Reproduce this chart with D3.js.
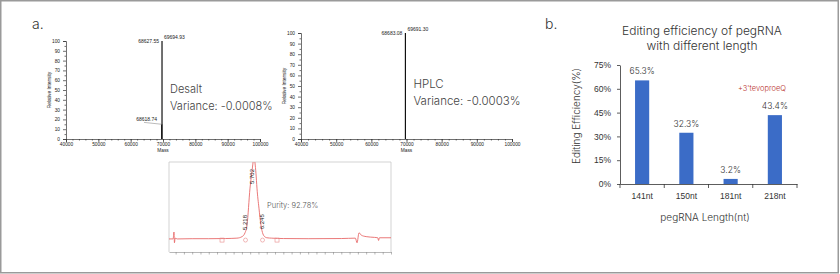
<!DOCTYPE html>
<html>
<head>
<meta charset="utf-8">
<script src="https://cdn.jsdelivr.net/npm/d3@7"></script>
<style>
  body { margin: 0; background: #fff; }
  svg { display: block; font-family: Inter, "Open Sans", sans-serif; }
</style>
</head>
<body>
<div id="chart"></div>
<script>
// panel b: bar chart
const lengths = ["141nt", "150nt", "181nt", "218nt"];
const efficiency = [65.3, 32.3, 3.2, 43.4];
const effTicks = [0, 15, 30, 45, 60, 75];

// panel a: mass spectra
const massTicks = [40000, 50000, 60000, 70000, 80000, 90000, 100000];
const intensityTicks = [0, 10, 20, 30, 40, 50, 60, 70, 80, 90, 100];
const desaltPeaks = [[69694.93, 100], [69600, 15]];
const desaltLabels = ["68627.55", "69694.93", "68618.74"];
const hplcPeaks = [[69691.30, 100]];
const hplcLabels = ["68683.08", "69691.30"];

// panel a: HPLC trace (time, signal)
const traceTime = [0.6, 0.85, 0.9, 0.93, 0.97, 1.1, 2.0, 3.0, 4.0, 4.7, 5.01, 5.19, 5.31, 5.49, 5.61, 5.73, 5.85, 5.91, 6.03, 6.15, 6.21, 6.33, 6.51, 6.8, 7.5, 9.0, 11.0, 11.85, 11.95, 12.07, 12.2, 12.5, 13.0, 13.2, 13.25, 13.3, 14.0];
const traceSignal = [0, 0, 9, -5, 1, 0, 0.3, 0.3, 0.5, 1, 3, 8, 18, 66, 88, 105, 85, 66, 40, 18, 11, 4, 1.5, 1, 0.5, 0.3, 0.5, 1, -5, 8, 5, 3, 2, 1.5, -2, 1.5, 1.5];
const peakTimes = [5.218, 5.702, 6.245];
const boundTimes = [3.80, 7.12];
const purityText = "Purity: 92.78%";

const W = 840, H = 274;
const svg = d3.select("#chart").append("svg").attr("width", W).attr("height", H);

svg.append("rect").attr("x", 0.75).attr("y", 0.75).attr("width", 837.5).attr("height", 272)
    .attr("fill", "#fff").attr("stroke", "#9a9a9a").attr("stroke-width", 1.5);

svg.append("text").attr("x", 32).attr("y", 29).attr("font-size", 14).attr("font-weight", 300)
    .attr("fill", "#333").text("a.");
svg.append("text").attr("x", 545).attr("y", 29).attr("font-size", 14).attr("font-weight", 300)
    .attr("fill", "#333").text("b.");

function spectrum(x0, x1, yTop, yBot, peaks, labels, name, variance, fs, nameY) {
    const x = d3.scaleLinear().domain([40000, 100000]).range([x0, x1]);
    const y = d3.scaleLinear().domain([0, 100]).range([yBot, yTop]);
    const g = svg.append("g").attr("font-family", "Liberation Sans, Arial, sans-serif");

    const xa = g.append("g").attr("transform", `translate(0,${yBot})`)
        .call(d3.axisBottom(x).tickValues(massTicks).tickFormat(d3.format("d")).tickSize(3));
    xa.selectAll("text").attr("font-size", 4.8).attr("fill", "#222").attr("y", 3.5).attr("dy", "0.71em");
    g.append("g").attr("transform", `translate(0,${yBot})`)
        .call(d3.axisBottom(x).tickValues(d3.range(40000, 100001, 2000)).tickFormat("").tickSize(1.5))
        .select(".domain").remove();
    const ya = g.append("g").attr("transform", `translate(${x0},0)`)
        .call(d3.axisLeft(y).tickValues(intensityTicks).tickSize(3));
    ya.selectAll("text").attr("font-size", 4.8).attr("fill", "#222");
    g.append("g").attr("transform", `translate(${x0},0)`)
        .call(d3.axisLeft(y).tickValues(d3.range(5, 100, 10)).tickFormat("").tickSize(1.5))
        .select(".domain").remove();
    g.selectAll(".domain, .tick line").attr("stroke", "#333").attr("stroke-width", 0.7);

    g.append("text").attr("x", x(70000)).attr("y", yBot + 13).attr("text-anchor", "middle")
        .attr("font-size", 4.8).attr("fill", "#222").text("Mass");
    g.append("text").attr("transform", `translate(${x0 - 15},${(yTop + yBot) / 2}) rotate(-90)`)
        .attr("text-anchor", "middle").attr("font-size", 4.8).attr("fill", "#222").text("Relative Intensity");

    g.selectAll(".peak").data(peaks).enter().append("line").attr("class", "peak")
        .attr("x1", d => x(d[0])).attr("x2", d => x(d[0]))
        .attr("y1", y(0)).attr("y2", d => y(d[1]))
        .attr("stroke", "#111").attr("stroke-width", 1.2);

    const px = x(peaks[0][0]);
    g.append("text").attr("x", px - 3).attr("y", y(100) + 2).attr("text-anchor", "end")
        .attr("font-size", 5).attr("fill", "#222").text(labels[0]);
    g.append("text").attr("x", px + 2).attr("y", y(100) - 2)
        .attr("font-size", 5).attr("fill", "#222").text(labels[1]);
    if (labels[2]) {
        g.append("text").attr("x", px - 5).attr("y", y(20) + 2).attr("text-anchor", "end")
            .attr("font-size", 5).attr("fill", "#222").text(labels[2]);
        g.append("line").attr("x1", px - 18).attr("x2", px).attr("y1", y(20) + 3).attr("y2", y(peaks[1][1]))
            .attr("stroke", "#777").attr("stroke-width", 0.5);
    }

    const t = svg.append("g").attr("fill", "#444").attr("font-weight", 300).attr("font-size", fs);
    t.append("text").attr("x", px + 8).attr("y", nameY).text(name);
    t.append("text").attr("x", px + 8).attr("y", nameY + 17).text(variance);
}

spectrum(66, 260, 41, 139, desaltPeaks, desaltLabels, "Desalt", "Variance: -0.0008%", 11, 93);
spectrum(301, 512, 33, 139, hplcPeaks, hplcLabels, "HPLC", "Variance: -0.0003%", 11.5, 88);

// HPLC chromatogram
(function () {
    const left = 169, right = 391, top = 162, bottom = 252;
    const x = d3.scaleLinear().domain([0.6, 14.0]).range([left, right]);
    const y = d3.scaleLinear().domain([-17, 100]).range([bottom, top]);
    const g = svg.append("g");
    g.append("defs").append("clipPath").attr("id", "box")
        .append("rect").attr("x", left).attr("y", top).attr("width", right - left).attr("height", bottom - top);
    g.append("path").attr("d", `M${left},${bottom}V${top}H${right}V${bottom}`)
        .attr("fill", "none").attr("stroke", "#c8c8c8").attr("stroke-width", 0.8);
    const xa = g.append("g").attr("transform", `translate(0,${bottom})`)
        .call(d3.axisBottom(x).tickValues(d3.range(1, 14.01, 0.5)).tickFormat("").tickSize(2.5).tickSizeOuter(0));
    xa.selectAll(".domain, .tick line").attr("stroke", "#888").attr("stroke-width", 0.6);

    const pts = traceTime.map((t, i) => [t, traceSignal[i]]);
    const line = d3.line().x(d => x(d[0])).y(d => y(d[1])).curve(d3.curveMonotoneX);
    g.append("path").datum(pts).attr("d", line).attr("clip-path", "url(#box)")
        .attr("fill", "none").attr("stroke", "#e86a6a").attr("stroke-width", 0.9);

    g.selectAll(".cm").data([peakTimes[0], peakTimes[2]]).enter().append("circle")
        .attr("cx", d => x(d)).attr("cy", y(-1.5)).attr("r", 2)
        .attr("fill", "none").attr("stroke", "#e88a8a").attr("stroke-width", 0.6);
    g.selectAll(".sm").data(boundTimes).enter().append("rect")
        .attr("x", d => x(d) - 2).attr("y", y(-1.5) - 2).attr("width", 4).attr("height", 4)
        .attr("fill", "none").attr("stroke", "#e88a8a").attr("stroke-width", 0.6);

    const labY = [y(9) - 2, y(100) + 8, y(10) - 2];
    g.selectAll(".pl").data(peakTimes).enter().append("text")
        .attr("transform", (d, i) => `translate(${x(d) + (i === 1 ? 0 : 1.5)},${labY[i] + (i === 1 ? 14 : 0)}) rotate(-90)`)
        .attr("font-size", 6).attr("font-family", "Liberation Sans, Arial, sans-serif").attr("fill", "#222")
        .text(d => d.toFixed(3));
    g.append("text").attr("x", 267).attr("y", 208).attr("font-size", 7.5).attr("font-weight", 300)
        .attr("fill", "#555").text(purityText);
})();

// panel b: bar chart
(function () {
    const x0 = 620, x1 = 797, yTop = 65, yBot = 184;
    const x = d3.scaleBand().domain(lengths).range([x0, x1]).paddingInner(0.68).paddingOuter(0.34);
    const y = d3.scaleLinear().domain([0, 75]).range([yBot, yTop]);
    const g = svg.append("g").attr("fill", "#333");

    g.append("text").attr("x", 702).attr("y", 35).attr("text-anchor", "middle")
        .attr("font-size", 12).attr("font-weight", 300).text("Editing efficiency of pegRNA");
    g.append("text").attr("x", 702).attr("y", 50).attr("text-anchor", "middle")
        .attr("font-size", 12).attr("font-weight", 300).text("with different length");

    const ya = g.append("g").attr("transform", `translate(${x0},0)`)
        .call(d3.axisLeft(y).tickValues(effTicks).tickFormat(d => d + "%").tickSize(3).tickSizeOuter(0));
    ya.selectAll("text").attr("font-size", 8.5).attr("font-weight", 300).attr("fill", "#333").attr("x", -9);

    const xa = g.append("g").attr("transform", `translate(0,${yBot})`)
        .call(d3.axisBottom(x).tickSize(0).tickSizeOuter(0));
    xa.selectAll("text").attr("font-size", 8.5).attr("font-weight", 300).attr("fill", "#333").attr("dy", "1.45em");
    const step = x.step();
    xa.selectAll(".sep").data(d3.range(lengths.length + 1)).enter().append("line").attr("class", "sep")
        .attr("x1", i => x0 + i * step).attr("x2", i => x0 + i * step).attr("y1", 0).attr("y2", 4)
        .attr("stroke", "#333");
    g.selectAll(".domain, line").attr("stroke", "#333").attr("stroke-width", 0.8);

    g.selectAll(".bar").data(efficiency).enter().append("rect").attr("class", "bar")
        .attr("x", (d, i) => x(lengths[i])).attr("width", x.bandwidth())
        .attr("y", d => y(d)).attr("height", d => yBot - y(d)).attr("fill", "#3b6cc7");
    g.selectAll(".val").data(efficiency).enter().append("text")
        .attr("x", (d, i) => x(lengths[i]) + x.bandwidth() / 2).attr("y", d => y(d) - 6)
        .attr("text-anchor", "middle").attr("font-size", 8.5).attr("font-weight", 300)
        .text(d => d.toFixed(1) + "%");

    g.append("text").attr("x", 738).attr("y", 91).attr("font-size", 7.5).attr("fill", "#b8302a")
        .attr("font-weight", 300).text("+3'tevoproeQ");
    g.append("text").attr("x", 705).attr("y", 221).attr("text-anchor", "middle")
        .attr("font-size", 10).attr("font-weight", 300).text("pegRNA Length(nt)");
    g.append("text").attr("transform", "translate(580,116) rotate(-90)").attr("text-anchor", "middle")
        .attr("font-size", 10).attr("font-weight", 300).text("Editing Efficiency(%)");
})();
</script>
</body>
</html>
